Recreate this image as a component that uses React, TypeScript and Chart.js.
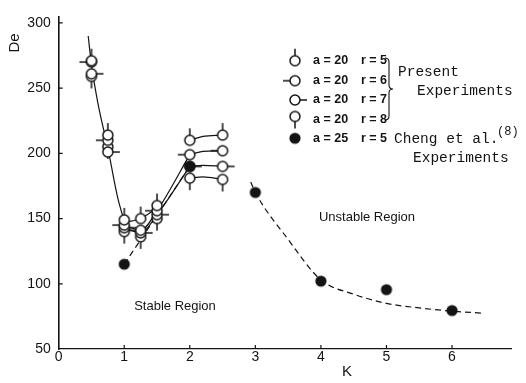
import React, { useEffect, useRef } from "react";
import { Chart, registerables } from "chart.js";
Chart.register(...registerables);

// ---- data ----
const K_PRESENT = [0.5, 0.75, 1, 1.25, 1.5, 2, 2.5];
const DE_R5 = [271, 214, 149, 150, 160, 210, 214];
const DE_R6 = [270, 210, 145, 141, 156, 199, 202];
const DE_R7 = [261, 201, 143, 139, 153, 190, 190];
const DE_R8 = [259, 205, 140, 136, 150, 181, 180];
const K_CHENG = [1, 2, 3, 4, 5, 6];
const DE_CHENG = [115, 190, 170, 102, 95.5, 79.5];

// hand-drawn trend curves
const K_FALL = [0.45, 0.5, 0.6, 0.75, 0.9, 1.0];
const DE_FALL = [290, 268, 238, 204, 166, 148];
const K_RISE = [1, 1.25, 1.5, 2];
const DE_RISE_A = [145, 141, 156, 199];
const DE_RISE_B = [143, 139, 153, 190];
const K_R5_LINK = [1, 1.25, 1.5];
const DE_R5_LINK = [147, 150, 158];
const K_CHENG_LINK = [1, 2];
const DE_CHENG_LINK = [115, 190];
const K_SAT = [2, 2.2, 2.5];
const DE_SAT_R5 = [210, 213, 214];
const DE_SAT_R6 = [199, 201.5, 202];
const DE_SAT_R7 = [190, 190.8, 190];
const DE_SAT_R8 = [181, 182, 180];
const K_UNSTABLE = [2.93, 3.0, 3.5, 4, 4.5, 5, 5.5, 6, 6.45];
const DE_UNSTABLE = [178, 170, 134, 103, 92, 85, 81.5, 79, 77.5];

const X_TICKS = [0, 1, 2, 3, 4, 5, 6];
const Y_TICKS = [50, 100, 150, 200, 250, 300];

const LEGEND_LABELS = [
  ["a = 20", "r = 5"],
  ["a = 20", "r = 6"],
  ["a = 20", "r = 7"],
  ["a = 20", "r = 8"],
  ["a = 25", "r = 5"],
];

const INK = "#141414";
const SANS = '"Liberation Sans", Arial, sans-serif';
const MONO = '"Liberation Mono", "DejaVu Sans Mono", monospace';

const pts = (xs: number[], ys: number[]) => xs.map((x, i) => ({ x, y: ys[i] }));

function makeMarker(dir: string, filled: boolean): HTMLCanvasElement {
  const c = document.createElement("canvas");
  c.width = 28;
  c.height = 28;
  const g = c.getContext("2d")!;
  const cx = 14, cy = 14, r = 5;
  g.strokeStyle = INK;
  g.lineWidth = 1.5;
  const t = 12;
  g.beginPath();
  if (dir === "up") { g.moveTo(cx, cy - r); g.lineTo(cx, cy - t); }
  if (dir === "down") { g.moveTo(cx, cy + r); g.lineTo(cx, cy + t); }
  if (dir === "left") { g.moveTo(cx - r, cy); g.lineTo(cx - t, cy); }
  if (dir === "right") { g.moveTo(cx + r, cy); g.lineTo(cx + t, cy); }
  g.stroke();
  g.beginPath();
  g.arc(cx, cy, filled ? 5.6 : r, 0, Math.PI * 2);
  g.fillStyle = filled ? INK : "#fff";
  g.fill();
  if (!filled) g.stroke();
  return c;
}

export default function App() {
  const ref = useRef<HTMLCanvasElement>(null);
  useEffect(() => {
    const m5 = makeMarker("up", false);
    const m6 = makeMarker("left", false);
    const m7 = makeMarker("right", false);
    const m8 = makeMarker("down", false);
    const mf = makeMarker("none", true);
    const markers = [m5, m6, m7, m8, mf];

    const curve = (xs: number[], ys: number[], dashed = false, tension = 0.4) => ({
      data: pts(xs, ys),
      showLine: true,
      pointRadius: 0,
      borderColor: INK,
      borderWidth: 1.2,
      borderDash: dashed ? [6, 4] : [],
      tension,
      cubicInterpolationMode: "monotone" as const,
      order: 5,
    });
    const markerSet = (xs: number[], ys: number[], img: HTMLCanvasElement) => ({
      data: pts(xs, ys),
      showLine: false,
      pointStyle: img,
      pointRadius: 6,
      order: 0,
    });

    const deco = {
      id: "deco",
      afterDraw(chart: any) {
        const ctx = chart.ctx as CanvasRenderingContext2D;
        const { left, bottom } = chart.chartArea;
        const xs = chart.scales.x, ys = chart.scales.y;
        ctx.save();
        ctx.strokeStyle = INK;
        ctx.lineWidth = 1.2;
        ctx.beginPath();
        X_TICKS.slice(1).forEach((v) => {
          const p = xs.getPixelForValue(v);
          ctx.moveTo(p, bottom);
          ctx.lineTo(p, bottom - 4);
        });
        Y_TICKS.slice(1).forEach((v) => {
          const p = ys.getPixelForValue(v);
          ctx.moveTo(left, p);
          ctx.lineTo(left + 4, p);
        });
        ctx.stroke();

        ctx.fillStyle = INK;
        ctx.textAlign = "center";
        ctx.textBaseline = "middle";
        ctx.font = `15px ${SANS}`;
        ctx.fillText("K", 347, 372);
        ctx.save();
        ctx.translate(15, 43);
        ctx.rotate(-Math.PI / 2);
        ctx.fillText("De", 0, 0);
        ctx.restore();

        ctx.font = `13px ${SANS}`;
        ctx.fillText("Stable Region", 175, 306);
        ctx.fillText("Unstable Region", 367, 217);

        // legend
        const rows = [60.7, 80.7, 100, 119.3, 138.3];
        const mky = [60.7, 80.7, 100, 116.5, 138.3];
        rows.forEach((y, i) => {
          const img = markers[i];
          ctx.drawImage(img, 295 - 14, mky[i] - 14);
          ctx.textAlign = "left";
          ctx.font = `bold 12.5px ${SANS}`;
          ctx.fillText(LEGEND_LABELS[i][0], 313, y);
          ctx.fillText(LEGEND_LABELS[i][1], 361, y);
        });
        // brace
        ctx.beginPath();
        ctx.lineWidth = 1.1;
        ctx.moveTo(385, 58);
        ctx.quadraticCurveTo(389, 58, 389, 62);
        ctx.lineTo(389, 85);
        ctx.quadraticCurveTo(389, 89, 393, 89);
        ctx.quadraticCurveTo(389, 89, 389, 93);
        ctx.lineTo(389, 116);
        ctx.quadraticCurveTo(389, 120, 385, 120);
        ctx.stroke();

        ctx.font = `14.5px ${MONO}`;
        ctx.textAlign = "left";
        ctx.fillText("Present", 398, 72);
        ctx.fillText("Experiments", 417, 91);
        ctx.fillText("Cheng et al.", 394, 139);
        ctx.fillText("Experiments", 413, 158);
        ctx.font = `12px ${MONO}`;
        ctx.fillText("(8)", 497, 132);
        ctx.restore();
      },
    };

    const chart = new Chart(ref.current!, {
      type: "scatter",
      data: {
        datasets: [
          markerSet(K_CHENG, DE_CHENG, mf),
          markerSet(K_PRESENT, DE_R5, m5),
          markerSet(K_PRESENT, DE_R6, m6),
          markerSet(K_PRESENT, DE_R7, m7),
          markerSet(K_PRESENT, DE_R8, m8),
          curve(K_FALL, DE_FALL),
          curve(K_RISE, DE_RISE_A),
          curve(K_RISE, DE_RISE_B),
          curve(K_R5_LINK, DE_R5_LINK),
          curve(K_CHENG_LINK, DE_CHENG_LINK, true, 0),
          curve(K_SAT, DE_SAT_R5),
          curve(K_SAT, DE_SAT_R6),
          curve(K_SAT, DE_SAT_R7),
          curve(K_SAT, DE_SAT_R8),
          curve(K_UNSTABLE, DE_UNSTABLE, true),
        ] as any,
      },
      options: {
        responsive: false,
        animation: false,
        events: [],
        layout: { padding: { top: 13.4, right: 15, left: 0, bottom: 0 } },
        plugins: { legend: { display: false }, tooltip: { enabled: false } },
        scales: {
          x: {
            type: "linear",
            min: 0,
            max: 6.9,
            ticks: {
              stepSize: 1,
              includeBounds: false,
              color: INK,
              padding: 0,
              font: { size: 14, family: SANS },
            },
            grid: { display: false, drawTicks: false },
            border: { color: INK, width: 1.3 },
            afterFit(s: any) { s.height = 34; },
          },
          y: {
            type: "linear",
            min: 50,
            max: 305,
            ticks: {
              stepSize: 50,
              includeBounds: false,
              color: INK,
              padding: 8,
              font: { size: 14, family: SANS },
            },
            grid: { display: false, drawTicks: false },
            border: { color: INK, width: 1.6 },
            afterFit(s: any) { s.width = 58.7; },
          },
        },
      } as any,
      plugins: [deco],
    });
    return () => chart.destroy();
  }, []);
  return (
    <div style={{ position: "absolute", left: 0, top: 0, width: 526, height: 383, background: "#fff" }}>
      <canvas ref={ref} width={526} height={383} />
    </div>
  );
}
